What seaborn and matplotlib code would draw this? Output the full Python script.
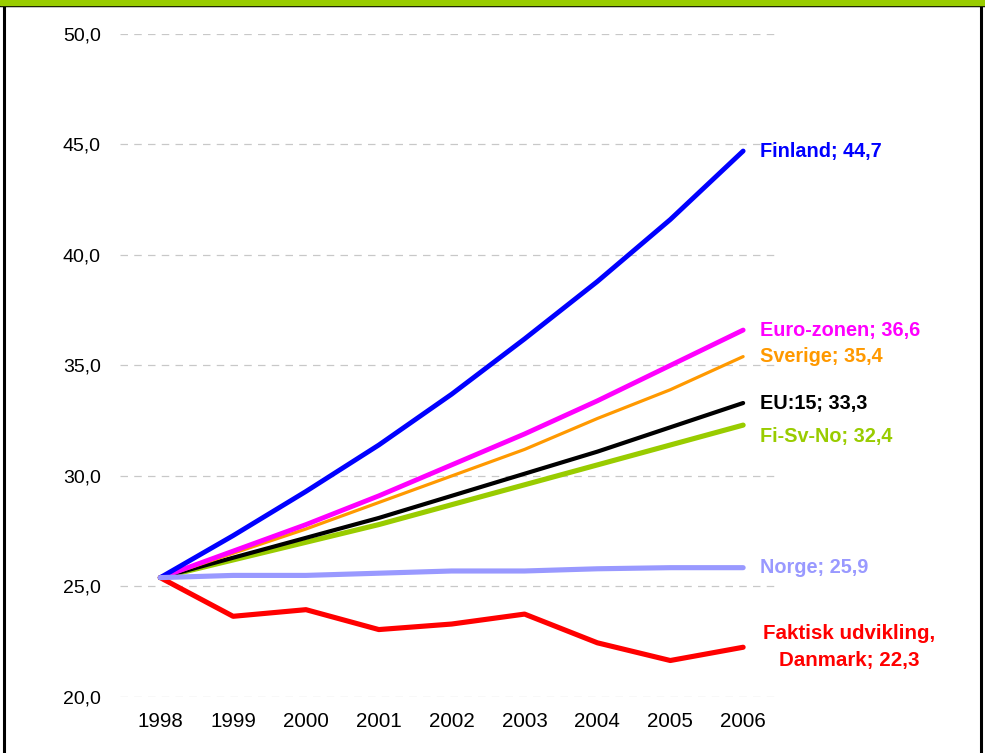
import matplotlib
matplotlib.use("Agg")
import matplotlib.pyplot as plt
import seaborn as sns
from matplotlib.lines import Line2D
from matplotlib.patches import Rectangle
from matplotlib.ticker import FuncFormatter

years = [1998, 1999, 2000, 2001, 2002, 2003, 2004, 2005, 2006]

finland = [25.4, 27.3, 29.3, 31.4, 33.7, 36.2, 38.8, 41.6, 44.7]
euro_zone = [25.4, 26.6, 27.8, 29.1, 30.5, 31.9, 33.4, 35.0, 36.6]
sverige = [25.4, 26.5, 27.6, 28.8, 30.0, 31.2, 32.6, 33.9, 35.4]
eu15 = [25.4, 26.3, 27.2, 28.1, 29.1, 30.1, 31.1, 32.2, 33.3]
fi_sv_no = [25.4, 26.2, 27.0, 27.8, 28.7, 29.6, 30.5, 31.4, 32.3]
norge = [25.4, 25.5, 25.5, 25.6, 25.7, 25.7, 25.8, 25.85, 25.85]
danmark = [25.4, 23.65, 23.95, 23.05, 23.3, 23.75, 22.45, 21.65, 22.25]

series = [
    ("Faktisk udvikling,\nDanmark; 22,3", danmark, "#ff0000", 3.7),
    ("Fi-Sv-No; 32,4", fi_sv_no, "#99cc00", 3.7),
    ("EU:15; 33,3", eu15, "#000000", 3.0),
    ("Sverige; 35,4", sverige, "#ff9900", 2.3),
    ("Euro-zonen; 36,6", euro_zone, "#ff00ff", 3.5),
    ("Finland; 44,7", finland, "#0000ff", 3.5),
    ("Norge; 25,9", norge, "#9999ff", 3.7),
]
# label y positions (data units), nudged where labels would collide
label_y = {
    "Finland; 44,7": 44.7,
    "Euro-zonen; 36,6": 36.6,
    "Sverige; 35,4": 35.4,
    "EU:15; 33,3": 33.3,
    "Fi-Sv-No; 32,4": 31.8,
    "Norge; 25,9": 25.85,
}

sns.set_theme(style="white")
plt.rcParams["font.family"] = ["Liberation Sans", "DejaVu Sans"]

fig = plt.figure(figsize=(9.85, 7.53), dpi=100)
ax = fig.add_axes([0.122, 0.0744, 0.665, 0.8806])

for name, vals, color, lw in series:
    sns.lineplot(x=years, y=vals, color=color, linewidth=lw, ax=ax,
                 solid_capstyle="round", solid_joinstyle="round")
    if name in label_y:
        ax.text(2006.23, label_y[name], name, color=color, fontsize=14.3,
                fontweight="bold", ha="left", va="center", clip_on=False)
    else:
        ax.text(2007.45, 22.25, name, color=color, fontsize=14.8,
                fontweight="bold", ha="center", va="center",
                linespacing=1.55, clip_on=False)

ax.set_xlim(1997.45, 2006.44)
ax.set_ylim(20, 50)
ax.set_xticks(years)
ax.set_yticks([20, 25, 30, 35, 40, 45, 50])
ax.yaxis.set_major_formatter(FuncFormatter(lambda v, p: f"{v:.1f}".replace(".", ",")))
ax.tick_params(axis="y", labelsize=14, pad=14, length=0, colors="#000000")
ax.tick_params(axis="x", labelsize=14.8, pad=11, length=0, colors="#000000")
ax.grid(axis="y", color="#c8c8c8", linestyle=(0, (6, 5)), linewidth=0.9)
ax.grid(axis="x", visible=False)
for s in ax.spines.values():
    s.set_visible(False)
ax.set_xlabel("")
ax.set_ylabel("")

# green header band and frame
fig.add_artist(Rectangle((0, 0.9934), 1, 0.0066, transform=fig.transFigure,
                         color="#99cc00", zorder=5))
fig.add_artist(Line2D([0, 1], [0.9927, 0.9927], transform=fig.transFigure,
                      color="black", lw=2.5))
fig.add_artist(Line2D([0.0045, 0.0045], [0, 0.993], transform=fig.transFigure,
                      color="black", lw=2.2))
fig.add_artist(Line2D([0.9955, 0.9955], [0, 0.993], transform=fig.transFigure,
                      color="black", lw=2.2))

fig.savefig("out.png", dpi=100)
